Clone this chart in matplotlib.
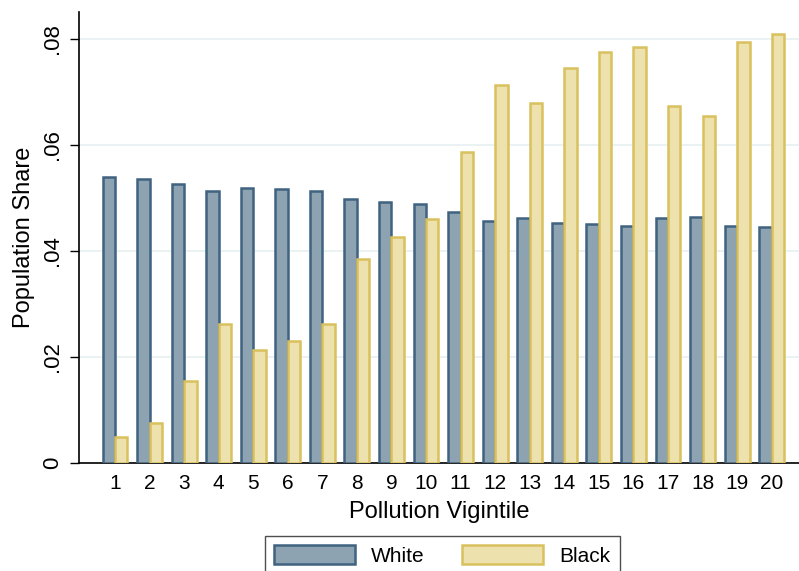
import matplotlib.pyplot as plt
import numpy as np

plt.rcParams['font.family'] = ['Liberation Sans', 'DejaVu Sans']

vigintiles = list(range(1, 21))
white_share = [0.0539, 0.0536, 0.0526, 0.0513, 0.0519, 0.0517, 0.0513, 0.0499, 0.0493, 0.0489,
               0.0473, 0.0457, 0.0462, 0.0453, 0.0450, 0.0448, 0.0463, 0.0465, 0.0447, 0.0446]
black_share = [0.0049, 0.0076, 0.0155, 0.0263, 0.0214, 0.0231, 0.0263, 0.0384, 0.0426, 0.0461,
               0.0587, 0.0713, 0.0679, 0.0746, 0.0776, 0.0785, 0.0674, 0.0655, 0.0795, 0.0810]
yticks = [0, 0.02, 0.04, 0.06, 0.08]
ytick_labels = ['0', '.02', '.04', '.06', '.08']

fig = plt.figure(figsize=(7.99, 5.71), dpi=100)
ax = fig.add_axes([0.0989, 0.1891, 0.9011, 0.79])

x = np.array(vigintiles)
w = 0.36
ax.bar(x - w / 2, white_share, width=w, color='#8da3b1', edgecolor='#3f6380',
       linewidth=1.8, label='White', zorder=3)
ax.bar(x + w / 2, black_share, width=w, color='#ede1ae', edgecolor='#d9c15e',
       linewidth=1.8, label='Black', zorder=3)

ax.set_xlim(-0.04, 20.79)
ax.set_ylim(0, 0.0851)
ax.set_xticks(vigintiles)
ax.set_yticks(yticks)
ax.set_yticklabels(ytick_labels, rotation=90, va='center')
ax.tick_params(axis='x', labelsize=15, length=0, pad=8)
ax.tick_params(axis='y', labelsize=16, length=6.5, width=1, pad=5)
ax.grid(axis='y', color='#e8f0f2', linewidth=1.2, zorder=0)
for s in ['top', 'right']:
    ax.spines[s].set_visible(False)
ax.spines['left'].set_linewidth(1.2)
ax.spines['bottom'].set_linewidth(1.2)

ax.set_xlabel('Pollution Vigintile', fontsize=17, labelpad=6)
ax.set_ylabel('Population Share', fontsize=17, labelpad=5)

leg = fig.legend(loc='upper left', bbox_to_anchor=(265 / 799, 1 - 536 / 571), ncol=2,
                 fontsize=15, frameon=True, fancybox=False, edgecolor='#222222',
                 handlelength=3.85, handleheight=1.0, columnspacing=1.8,
                 handletextpad=0.8, borderpad=0.45, borderaxespad=0)
leg.get_frame().set_linewidth(1.0)

fig.savefig('out.png', dpi=100)
